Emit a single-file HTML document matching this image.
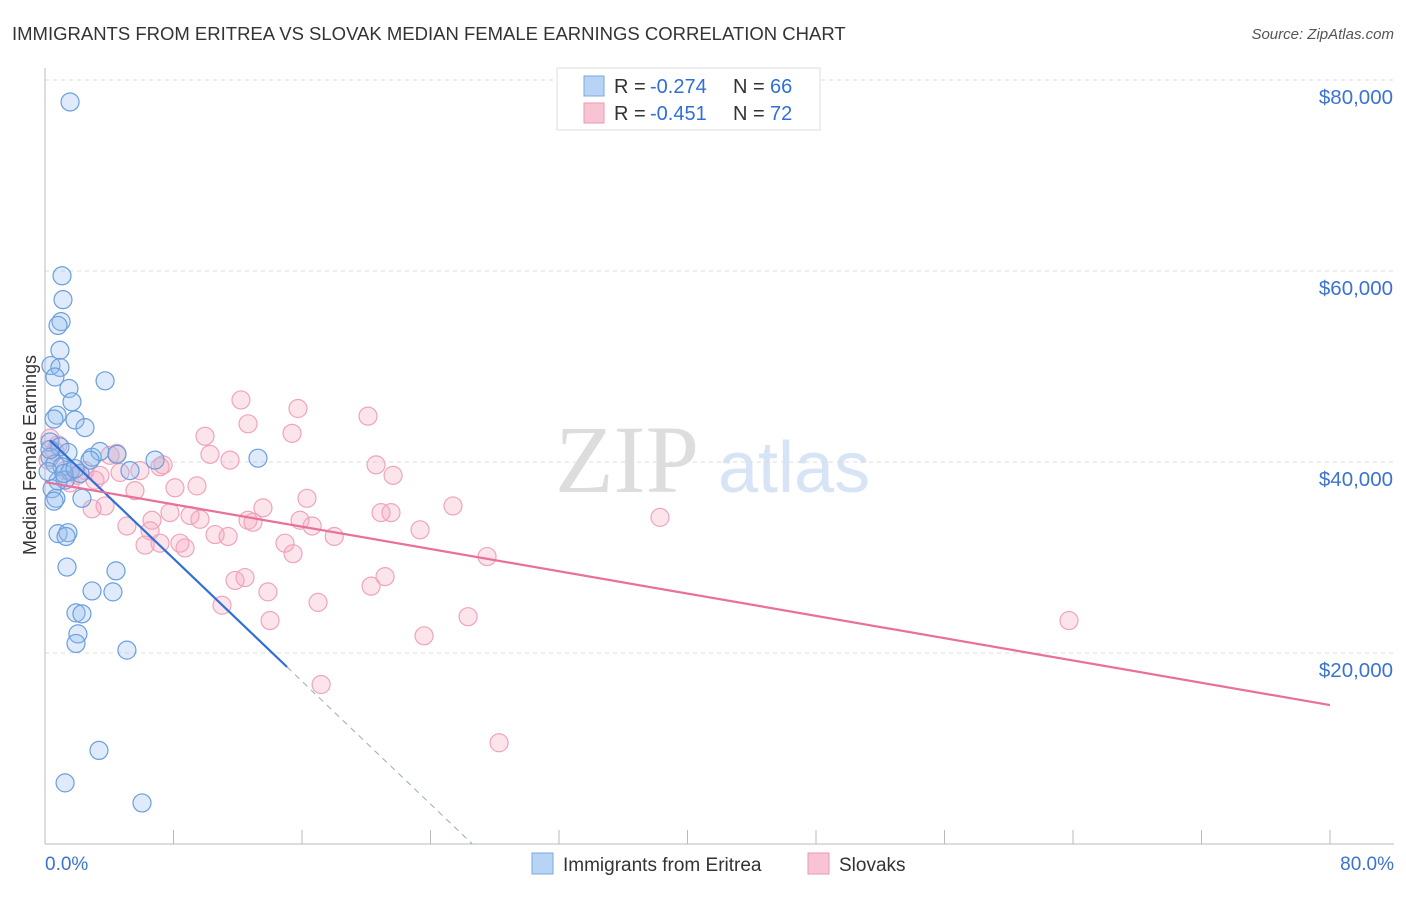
<!DOCTYPE html>
<html><head><meta charset="utf-8">
<style>
body{margin:0;background:#fff;font-family:"Liberation Sans",sans-serif;}
#wrap{position:relative;width:1406px;height:892px;}
</style></head>
<body>
<div id="wrap">
<svg id="svg" width="1406" height="892" xmlns="http://www.w3.org/2000/svg">
<text x="12" y="40" font-size="18.5" fill="#333">IMMIGRANTS FROM ERITREA VS SLOVAK MEDIAN FEMALE EARNINGS CORRELATION CHART</text>
<text x="1394" y="39" font-size="15" fill="#555" font-style="italic" text-anchor="end">Source: ZipAtlas.com</text>
<text x="555" y="492" font-size="96" fill="#ddd" font-family="Liberation Serif">ZIP</text>
<text x="718" y="492" font-size="72" fill="#d6e4f5">atlas</text>
<g id="grid"></g><g id="axes"></g><g id="pink"></g><g id="blue"></g><g id="lines"></g>
<text x="36" y="455" font-size="18" fill="#333" text-anchor="middle" transform="rotate(-90 36 455)">Median Female Earnings</text>
<g>
<rect x="557" y="68" width="263" height="62" fill="#fff" stroke="#ddd"/>
<rect x="584" y="76" width="20" height="20" fill="#b8d4f5" stroke="#7aa8e0"/>
<text x="614" y="93" font-size="20" fill="#333">R = </text><text x="650" y="93" font-size="20" fill="#2f6fd6">-0.274</text>
<text x="733" y="93" font-size="20" fill="#333">N = </text><text x="770" y="93" font-size="20" fill="#2f6fd6">66</text>
<rect x="584" y="103" width="20" height="20" fill="#f8c4d4" stroke="#e89ab2"/>
<text x="614" y="120" font-size="20" fill="#333">R = </text><text x="650" y="120" font-size="20" fill="#2f6fd6">-0.451</text>
<text x="733" y="120" font-size="20" fill="#333">N = </text><text x="770" y="120" font-size="20" fill="#2f6fd6">72</text>
</g>
<g>
<rect x="532" y="853" width="21" height="21" fill="#b8d4f5" stroke="#7aa8e0"/>
<text x="563" y="871" font-size="19" fill="#333">Immigrants from Eritrea</text>
<rect x="808" y="853" width="21" height="21" fill="#f8c4d4" stroke="#e89ab2"/>
<text x="839" y="871" font-size="19" fill="#333">Slovaks</text>
</g>
</svg>
</div>
<script>
const yTicks=[20000,40000,60000,80000];
const yTickLabels=["$20,000","$40,000","$60,000","$80,000"];
const xEnds=["0.0%","80.0%"];
const blueX=[1.56,1.06,1.12,1.0,0.81,0.93,0.37,0.93,0.62,1.49,1.68,3.74,0.75,0.56,1.87,2.49,0.31,0.93,1.43,2.93,3.42,4.48,6.85,5.29,13.26,0.31,0.62,1.06,1.56,2.18,1.25,0.81,0.44,0.68,2.30,0.56,0.81,1.43,1.31,1.37,4.42,2.93,4.23,1.93,2.30,2.05,1.93,5.10,3.36,1.25,6.04,0.19,1.18,1.87,0.31,2.80];
const blueY=[77700,59500,57000,54700,54300,51700,50100,49900,48900,47700,46300,48500,44900,44500,44400,43600,42100,41600,41000,40500,41100,40800,40200,39100,40400,40500,39800,39500,39000,38800,38100,38000,37200,36200,36200,35900,32500,32600,32200,29000,28600,26500,26400,24200,24100,22000,21000,20300,9800,6400,4300,39000,38800,39300,41300,40200];
const pinkX=[0.31,0.81,0.19,1.25,1.56,2.49,3.42,4.05,4.48,4.67,2.93,5.10,5.60,6.23,6.54,6.66,7.16,7.78,8.09,8.40,8.72,9.03,9.46,9.65,9.96,10.27,10.59,11.02,11.40,11.52,11.83,12.20,12.45,12.64,12.95,13.57,13.88,14.01,14.94,15.38,15.44,15.75,15.88,16.31,16.63,17.00,17.19,18.01,20.11,20.30,20.61,20.92,21.54,21.67,21.17,23.35,23.60,25.40,26.34,27.52,28.27,38.29,63.75,7.16,7.35,3.11,2.05,5.91,0.62,3.74,12.64];
const pinkY=[42500,41800,40200,39100,37800,39100,38600,40700,40900,38900,35100,33300,37000,31300,32800,33900,31500,34700,37300,31500,31000,34400,37500,34000,42700,40800,32400,25000,32200,40200,27600,46500,27900,33900,33700,35200,26400,23400,31500,43000,30400,45600,33900,36200,33300,25300,16700,32200,44800,27000,39700,34700,34700,38600,28000,32900,21800,35400,23800,30100,10600,34200,23400,39500,39700,38100,38600,39100,41100,35400,44000];
const blueFit=[42750,-1607];
const pinkFit=[37900,-291.9];
const NS="http://www.w3.org/2000/svg";
const X=v=>45+v/80*1285, Y=v=>844-v/20000*191;
function mk(tag,at,parent){const e=document.createElementNS(NS,tag);for(const k in at)e.setAttribute(k,at[k]);document.getElementById(parent).appendChild(e);return e;}
yTicks.forEach((t,i)=>{
 const l=mk('line',{x1:45,x2:1394,y1:Y(t),y2:Y(t),stroke:'#ddd','stroke-dasharray':'4,4'},'grid');
 
 
 const tx=mk('text',{x:1393,y:Y(t)+24,'font-size':20.5,fill:'#3b73d1','text-anchor':'end'},'axes');
 tx.textContent=yTickLabels[i];
 
 
});
let a=mk('line',{x1:45,x2:45,y1:68,y2:844,stroke:'#bbb'},'axes');


a=mk('line',{x1:45,x2:1394,y1:844,y2:844,stroke:'#bbb'},'axes');


for(let i=1;i<=10;i++){const px=X(i*8);const t=mk('line',{x1:px,x2:px,y1:830,y2:844,stroke:'#bbb'},'axes');
 
 }
let t0=mk('text',{x:45,y:870,'font-size':19,fill:'#3b73d1'},'axes');t0.textContent=xEnds[0];


t0=mk('text',{x:1394,y:870,'font-size':19,fill:'#3b73d1','text-anchor':'end'},'axes');t0.textContent=xEnds[1];


pinkX.forEach((x,i)=>{const c=mk('circle',{cx:X(x),cy:Y(pinkY[i]),r:9,fill:'rgba(245,165,190,0.3)',stroke:'#f0a4bc','stroke-width':1.2},'pink');
 
 });
blueX.forEach((x,i)=>{const c=mk('circle',{cx:X(x),cy:Y(blueY[i]),r:9,fill:'rgba(150,190,240,0.3)',stroke:'#6a9ede','stroke-width':1.2},'blue');
 
 });
const bEnd=15.07, bZero=-blueFit[0]/blueFit[1];
let ln=mk('line',{x1:X(0.3),y1:Y(blueFit[0]+blueFit[1]*0.3),x2:X(bEnd),y2:Y(blueFit[0]+blueFit[1]*bEnd),stroke:'#2f6fd6','stroke-width':2.2},'lines');


ln=mk('line',{x1:X(bEnd),y1:Y(blueFit[0]+blueFit[1]*bEnd),x2:X(bZero),y2:Y(0),stroke:'#9ab','stroke-width':1,'stroke-dasharray':'6,5'},'lines');


ln=mk('line',{x1:X(0),y1:Y(pinkFit[0]),x2:X(80),y2:Y(pinkFit[0]+pinkFit[1]*80),stroke:'#e8709a','stroke-width':2.2},'lines');


</script>
</body></html>
